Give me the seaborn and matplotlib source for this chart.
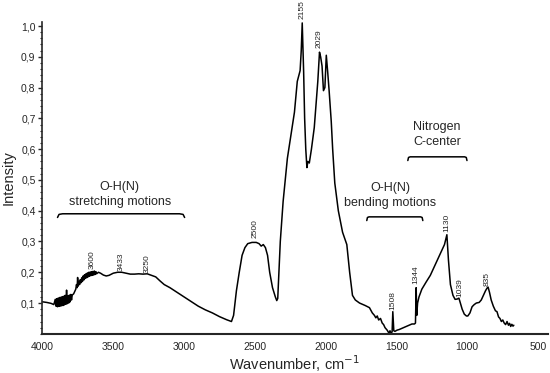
import matplotlib
matplotlib.use("Agg")
import matplotlib.pyplot as plt
import matplotlib.ticker as mticker
import numpy as np
import pandas as pd
import seaborn as sns

# spectrum (wavenumber, intensity)
wavenumber = [
    4000, 3970, 3940, 3920,
    3910, 3905, 3900, 3895, 3890, 3885, 3880, 3875, 3870, 3865, 3860, 3855,
    3850, 3845, 3840, 3835, 3830, 3825, 3820, 3815, 3810, 3805, 3800, 3795, 3790,
    3780, 3770,
    3765, 3760, 3755, 3752, 3748, 3743, 3738, 3733, 3728, 3723, 3718, 3713,
    3708, 3703, 3698, 3693, 3688, 3683, 3678, 3673, 3668, 3663, 3658, 3653,
    3648, 3643, 3638, 3633, 3628, 3623, 3618,
    3605, 3590,
    3570, 3550, 3530, 3500, 3470, 3440, 3410, 3380, 3350, 3320, 3290, 3260,
    3230, 3200, 3170, 3140, 3100, 3050, 3000, 2950, 2900, 2850, 2800, 2750,
    2700, 2665, 2650, 2630, 2610, 2590, 2570, 2550, 2520, 2490, 2470, 2455,
    2440, 2425, 2410, 2395, 2375, 2355, 2345, 2338, 2320, 2300, 2270, 2240,
    2220, 2200, 2180, 2172, 2165, 2160, 2155, 2148, 2140, 2132, 2125, 2115,
    2100, 2080, 2065, 2055, 2043, 2035, 2025, 2015, 2005, 1995, 1985, 1975,
    1960, 1950, 1935, 1910, 1880, 1850, 1830, 1810, 1790, 1760, 1720, 1690,
    1670, 1655, 1645, 1635, 1625, 1612, 1600, 1590, 1580, 1565, 1552, 1545,
    1538, 1530, 1525, 1518, 1510, 1495, 1480, 1450, 1420, 1390, 1372, 1365,
    1360, 1356, 1350, 1340, 1320, 1290, 1260, 1230, 1200, 1175, 1160, 1143,
    1132, 1118, 1100, 1085, 1070, 1058, 1048, 1035, 1020, 1005, 995, 980,
    965, 950, 935, 915, 900, 885, 870, 860, 852, 842, 830, 815, 800, 789,
    778, 768, 758, 748, 738, 728, 718, 708, 700, 692, 684, 676, 670,
]
intensity = [
    0.104, 0.102, 0.099, 0.095,
    0.112, 0.090, 0.114, 0.088, 0.116, 0.089, 0.118, 0.090, 0.119, 0.091, 0.121, 0.092,
    0.122, 0.094, 0.125, 0.096, 0.142, 0.098, 0.124, 0.100, 0.126, 0.104, 0.128, 0.110, 0.126,
    0.130, 0.140,
    0.145, 0.160, 0.150, 0.183, 0.155, 0.170, 0.160, 0.176, 0.166, 0.182, 0.170, 0.188,
    0.175, 0.192, 0.180, 0.195, 0.182, 0.198, 0.185, 0.200, 0.187, 0.201, 0.189, 0.202,
    0.190, 0.203, 0.191, 0.204, 0.193, 0.202, 0.195,
    0.200, 0.197,
    0.191, 0.188, 0.190, 0.197, 0.200, 0.200, 0.197, 0.194, 0.194, 0.195, 0.194, 0.195,
    0.190, 0.185, 0.172, 0.160, 0.150, 0.135, 0.120, 0.105, 0.090, 0.078, 0.068, 0.056,
    0.046, 0.040, 0.060, 0.140, 0.200, 0.255, 0.280, 0.293, 0.297, 0.297, 0.293, 0.285,
    0.290, 0.280, 0.255, 0.200, 0.150, 0.120, 0.108, 0.115, 0.300, 0.430, 0.570, 0.660,
    0.720, 0.820, 0.855, 0.920, 1.010, 0.930, 0.850, 0.700, 0.600, 0.540, 0.560, 0.555,
    0.600, 0.670, 0.760, 0.820, 0.915, 0.900, 0.870, 0.790, 0.800, 0.905, 0.850, 0.790,
    0.690, 0.600, 0.490, 0.400, 0.330, 0.290, 0.200, 0.125, 0.110, 0.100, 0.092, 0.085,
    0.068, 0.060, 0.052, 0.058, 0.045, 0.050, 0.035, 0.030, 0.020, 0.012, 0.002, 0.010,
    0.003, 0.006, 0.072, 0.010, 0.008, 0.012, 0.014, 0.020, 0.026, 0.032, 0.032, 0.035,
    0.150, 0.060, 0.100, 0.120, 0.145, 0.168, 0.190, 0.220, 0.250, 0.275, 0.290, 0.322,
    0.240, 0.160, 0.125, 0.112, 0.113, 0.116, 0.100, 0.080, 0.064, 0.058, 0.058, 0.068,
    0.088, 0.095, 0.100, 0.102, 0.110, 0.125, 0.140, 0.148, 0.152, 0.135, 0.110, 0.090, 0.075, 0.072,
    0.055, 0.050, 0.040, 0.045, 0.035, 0.030, 0.040, 0.028, 0.034, 0.024, 0.031, 0.025, 0.028,
]

# peak labels: text, x, y of text bottom
peak_text = ["3600", "3433", "3250", "2500", "2155", "2029", "1508", "1344", "1130", "1039", "835"]
peak_x = [3646, 3441, 3257, 2501, 2165, 2043, 1525, 1360, 1143, 1051, 858]
peak_y = [0.212, 0.203, 0.198, 0.310, 1.022, 0.930, 0.078, 0.163, 0.330, 0.120, 0.155]

# band groups: label lines, centre x, y of first line, bracket x range, bracket y
group_text = [("O-H(N)", "stretching motions"), ("O-H(N)", "bending motions"), ("Nitrogen", "C-center")]
group_x = [3455, 1545, 1214]
group_y = [0.478, 0.475, 0.672]
bracket_x = [(3894, 2996), (1709, 1313), (1419, 1001)]
bracket_y = [0.39, 0.38, 0.575]

df = pd.DataFrame({"wavenumber": wavenumber, "intensity": intensity})

sns.set_style("ticks")
plt.rcParams["font.family"] = ["Liberation Sans", "DejaVu Sans"]

fig = plt.figure(figsize=(5.5, 3.73), dpi=100)
ax = fig.add_axes([0.076, 0.105, 0.92, 0.836])

sns.lineplot(data=df, x="wavenumber", y="intensity", sort=False, color="black",
             linewidth=1.1, ax=ax, clip_on=False)

ax.set_xlim(4005, 430)
ax.set_ylim(0, 1.013)
ax.set_xticks([4000, 3500, 3000, 2500, 2000, 1500, 1000, 500])
ax.set_yticks([0.1, 0.2, 0.3, 0.4, 0.5, 0.6, 0.7, 0.8, 0.9, 1.0])
ax.yaxis.set_major_formatter(mticker.FuncFormatter(lambda v, p: f"{v:.1f}".replace(".", ",")))
ax.yaxis.set_minor_locator(mticker.MultipleLocator(0.02))
ax.tick_params(axis="x", length=0, pad=6, labelsize=7.5)
ax.tick_params(axis="y", which="major", length=3, width=1, pad=1.5, labelsize=7.5)
ax.tick_params(axis="y", which="minor", length=1.5, width=0.8)
for s in ["top", "right"]:
    ax.spines[s].set_visible(False)
ax.spines["left"].set_linewidth(1.2)
ax.spines["bottom"].set_linewidth(1.5)

ax.set_xlabel("Wavenumber, cm$^{-1}$", fontsize=10.5, labelpad=1)
ax.set_ylabel("Intensity", fontsize=10.5, labelpad=4)

for t, x, y in zip(peak_text, peak_x, peak_y):
    ax.text(x, y, t, rotation=90, fontsize=6, ha="center", va="bottom", clip_on=False)

for (l1, l2), x, y, (b0, b1), by in zip(group_text, group_x, group_y, bracket_x, bracket_y):
    ax.text(x, y, l1, fontsize=9, ha="center", va="center")
    ax.text(x, y - 0.05, l2, fontsize=9, ha="center", va="center")
    hook = (b0 - b1) * 0.04
    ax.plot([b0, b0 - hook * 0.3, b0 - hook, b1 + hook, b1 + hook * 0.3, b1],
            [by - 0.012, by - 0.002, by, by, by - 0.002, by - 0.012],
            color="black", linewidth=1.1)

fig.savefig("out.png", dpi=100)
